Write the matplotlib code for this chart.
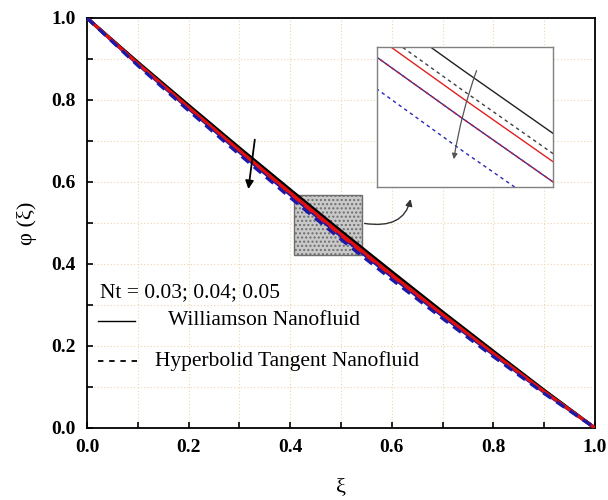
import matplotlib
matplotlib.use("Agg")
import matplotlib.pyplot as plt
from matplotlib.patches import Rectangle
from matplotlib.lines import Line2D

xi = [0.0, 0.1, 0.2, 0.3, 0.4, 0.5, 0.6, 0.7, 0.8, 0.9, 1.0]
will_003 = [1.000, 0.892, 0.787, 0.683, 0.581, 0.480, 0.381, 0.283, 0.187, 0.092, 0.000]
hyp_003 = [1.000, 0.890, 0.784, 0.679, 0.576, 0.475, 0.376, 0.279, 0.184, 0.090, 0.000]
will_004 = [1.000, 0.889, 0.782, 0.677, 0.574, 0.473, 0.374, 0.277, 0.182, 0.089, 0.000]
hyp_004 = [1.000, 0.887, 0.779, 0.673, 0.569, 0.468, 0.369, 0.273, 0.179, 0.087, 0.000]
will_005 = [1.000, 0.887, 0.779, 0.673, 0.569, 0.468, 0.369, 0.273, 0.179, 0.087, 0.000]
hyp_005 = [1.000, 0.884, 0.774, 0.667, 0.562, 0.460, 0.362, 0.267, 0.174, 0.084, 0.000]

ticks = [0.0, 0.2, 0.4, 0.6, 0.8, 1.0]
tick_labels = ["0.0", "0.2", "0.4", "0.6", "0.8", "1.0"]

serif = ["Liberation Serif", "DejaVu Serif"]
plt.rcParams["font.family"] = serif

fig = plt.figure(figsize=(6.08, 5.0), dpi=100)
ax = fig.add_axes([87/608, 1-428/500, 508/608, 410/500])

series = [
    (will_003, "black", "-"), (hyp_003, "black", "--"),
    (will_005, "#1a1aa8", "-"), (will_004, "#e01010", "-"),
    (hyp_004, "#e01010", "--"), (hyp_005, "#1a1aa8", "--"),
]
for y, c, ls in series:
    ax.plot(xi, y, color=c, ls=ls, lw=2.3, dashes=(3, 2) if ls == "--" else (None, None), zorder=3)

ax.set_xlim(0, 1)
ax.set_ylim(0, 1)
ax.set_xticks(ticks)
ax.set_xticklabels(tick_labels)
ax.set_yticks(ticks)
ax.set_yticklabels(tick_labels)
ax.set_xticks([0.1, 0.3, 0.5, 0.7, 0.9], minor=True)
ax.set_yticks([0.1, 0.3, 0.5, 0.7, 0.9], minor=True)
ax.tick_params(which="both", direction="in", length=4.5, width=1.2, top=False, right=False)
ax.tick_params(which="major", pad=8)
for lab in ax.get_xticklabels() + ax.get_yticklabels():
    lab.set_fontweight("bold")
    lab.set_fontsize(14)
ax.grid(which="both", color="#ecd6ae", ls=(0, (1, 2)), lw=0.8, zorder=0)
for sp in ax.spines.values():
    sp.set_linewidth(1.3)

ax.set_xlabel("ξ", fontsize=16, labelpad=16)
ax.set_ylabel("φ (ξ)", fontsize=16, labelpad=10)

# zoom box
ax.add_patch(Rectangle((0.407, 0.422), 0.134, 0.146, facecolor="#c9c9c9",
                       edgecolor="#6e6e6e", lw=1.0, hatch="....", zorder=2))
# arrow in main
ax.annotate("", xy=(0.317, 0.576), xytext=(0.331, 0.710),
            arrowprops=dict(arrowstyle="-|>", color="black", lw=1.3, mutation_scale=12), zorder=5)
# connector arrow
ax.annotate("", xy=(0.638, 0.565), xytext=(0.541, 0.500),
            arrowprops=dict(arrowstyle="-|>", color="#333333", lw=1.0, mutation_scale=10,
                            connectionstyle="angle3,angleA=-10,angleB=80"), zorder=5)

# legend texts
fs = 15.5
ax.text(0.026, 0.331, "Nt = 0.03; 0.04; 0.05", fontsize=fs, va="center", ha="left", zorder=6)
ax.add_line(Line2D([0.022, 0.094], [0.262, 0.262], color="black", lw=1.0, zorder=6))
ax.text(0.16, 0.262, "Williamson Nanofluid", fontsize=fs, va="center", ha="left", zorder=6)
ax.add_line(Line2D([0.022, 0.108], [0.163, 0.163], color="black", lw=1.3, ls=(0, (3, 3.2)), zorder=6))
ax.text(0.134, 0.163, "Hyperbolid Tangent Nanofluid", fontsize=fs, va="center", ha="left", zorder=6)

# inset
ins = fig.add_axes([377/608, 1-187/500, 176/608, 140/500])
in_series = [
    (will_003, "#202020", "-"), (hyp_003, "#404040", "--"),
    (will_004, "#e02020", "-"), (will_005, "#3a2a90", "-"),
    (hyp_004, "#c02040", "--"), (hyp_005, "#2828b8", "--"),
]
for y, c, ls in in_series:
    ins.plot(xi, y, color=c, ls=ls, lw=1.0, dashes=(2.5, 2.5) if ls == "--" else (None, None))
ins.set_xlim(0.485, 0.5158)
ins.set_ylim(0.4511, 0.4857)
ins.set_xticks([])
ins.set_yticks([])
for sp in ins.spines.values():
    sp.set_color("#808080")
    sp.set_linewidth(1.0)
ins.annotate("", xy=(0.434, 0.179), xytext=(0.571, 0.85), xycoords="axes fraction",
             textcoords="axes fraction",
             arrowprops=dict(arrowstyle="-|>", color="#555555", lw=0.9, mutation_scale=8,
                             connectionstyle="arc3,rad=0.05"))

fig.savefig("out.png", dpi=100)
